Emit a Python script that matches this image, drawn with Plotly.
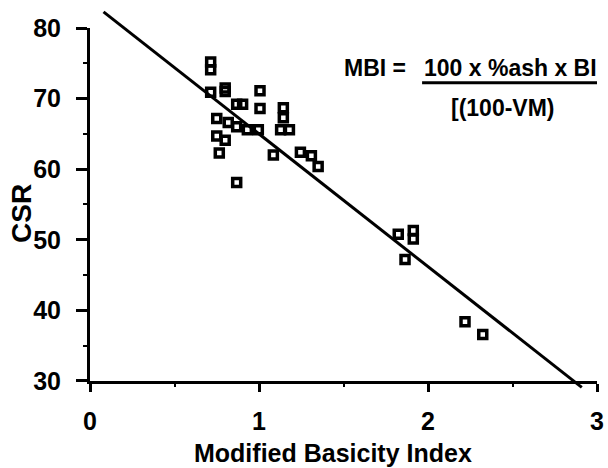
import plotly.graph_objects as go

# ---- data ----
mbi = [0.714, 0.714, 0.714, 0.800, 0.800, 1.006, 0.868, 0.903, 1.006, 1.144,
       1.144, 1.128, 1.180, 0.750, 0.818, 0.868, 0.931, 0.996, 0.750, 0.800,
       0.765, 1.085, 1.245, 1.310, 1.350, 0.868, 1.824, 1.913, 1.913, 1.864,
       2.219, 2.324]
csr = [75.2, 74.1, 70.9, 71.5, 71.0, 71.1, 69.2, 69.2, 68.6, 68.7,
       67.3, 65.6, 65.6, 67.2, 66.6, 66.0, 65.6, 65.6, 64.7, 64.1,
       62.3, 62.0, 62.4, 61.9, 60.4, 58.1, 50.8, 51.3, 50.1, 47.2,
       38.4, 36.6]

fit_intercept = 83.8
fit_slope = -18.8
fit_x = [0.08, 2.91]
fit_y = [fit_intercept + fit_slope * v for v in fit_x]

x_ticks = [0, 1, 2, 3]
y_ticks = [30, 40, 50, 60, 70, 80]
x_range = [0, 3]
y_range = [30, 80]

FONT = "Arial, Liberation Sans, sans-serif"

# main y domain (the fit line lives on a full-height helper subplot so it can
# run past the axes as in the original)
yd0, yd1 = 0.0236, 0.9476
span = (y_range[1] - y_range[0]) / (yd1 - yd0)
y3_range = [y_range[0] - yd0 * span, y_range[1] + (1 - yd1) * span]

fig = go.Figure()
fig.add_trace(go.Scatter(
    x=fit_x, y=fit_y, mode="lines", xaxis="x3", yaxis="y3",
    line=dict(color="black", width=3), showlegend=False, hoverinfo="skip"))
fig.add_trace(go.Scatter(
    x=mbi, y=csr, mode="markers",
    marker=dict(symbol="square-open", size=8, color="black",
                line=dict(color="black", width=3.5)),
    cliponaxis=False, showlegend=False))

axis_font = dict(family=FONT, size=25, color="black", weight="bold")

fig.update_layout(
    template="none",
    width=608, height=468,
    margin=dict(l=90, r=11, t=8, b=78, autoexpand=False),
    paper_bgcolor="white", plot_bgcolor="rgba(0,0,0,0)",
    xaxis=dict(range=x_range, tickvals=x_ticks, domain=[0, 1], anchor="y",
               showgrid=False, zeroline=False, automargin=False,
               showline=True, linewidth=3, linecolor="black",
               ticks="outside", ticklen=8, tickwidth=3, tickcolor="black",
               tickfont=axis_font, ticklabelstandoff=8,
               minor=dict(dtick=0.5, ticks="outside", ticklen=3, tickwidth=2,
                          tickcolor="black", showgrid=False)),
    yaxis=dict(range=y_range, tickvals=y_ticks, domain=[yd0, yd1], anchor="x",
               showgrid=False, zeroline=False, automargin=False,
               showline=True, linewidth=3, linecolor="black",
               ticks="outside", ticklen=11, tickwidth=3, tickcolor="black",
               tickfont=axis_font, ticklabelstandoff=10,
               minor=dict(dtick=5, ticks="outside", ticklen=4, tickwidth=2,
                          tickcolor="black", showgrid=False)),
    xaxis3=dict(range=x_range, domain=[0, 1], anchor="y3", visible=False),
    yaxis3=dict(range=y3_range, domain=[0, 1], anchor="x3", visible=False),
)

ann_font = dict(family=FONT, size=23, color="black", weight="bold")
fig.add_annotation(text="Modified Basicity Index", xref="paper", yref="paper",
                   x=0.479, y=-0.165, xanchor="center", yanchor="middle",
                   showarrow=False, font=dict(family=FONT, size=25, color="black", weight="bold"))
fig.add_annotation(text="CSR", xref="paper", yref="paper", textangle=-90,
                   x=-0.134, y=0.461, xanchor="center", yanchor="middle",
                   showarrow=False, font=dict(family=FONT, size=28, color="black", weight="bold"))
fig.add_annotation(text="MBI =", xref="paper", yref="paper",
                   x=0.497, y=0.843, xanchor="left", yanchor="middle",
                   showarrow=False, font=ann_font)
fig.add_annotation(text="100 x %ash x BI", xref="paper", yref="paper",
                   x=0.655, y=0.843, xanchor="left", yanchor="middle",
                   showarrow=False, font=ann_font)
fig.add_annotation(text="[(100-VM)", xref="paper", yref="paper",
                   x=0.815, y=0.738, xanchor="center", yanchor="middle",
                   showarrow=False, font=ann_font)
fig.add_shape(type="line", xref="paper", yref="paper",
              x0=0.655, x1=1.0, y0=0.804, y1=0.804,
              line=dict(color="black", width=3))

fig.write_html("out.html",
               config={"displayModeBar": False},
               post_script="document.body.style.margin='0';")
